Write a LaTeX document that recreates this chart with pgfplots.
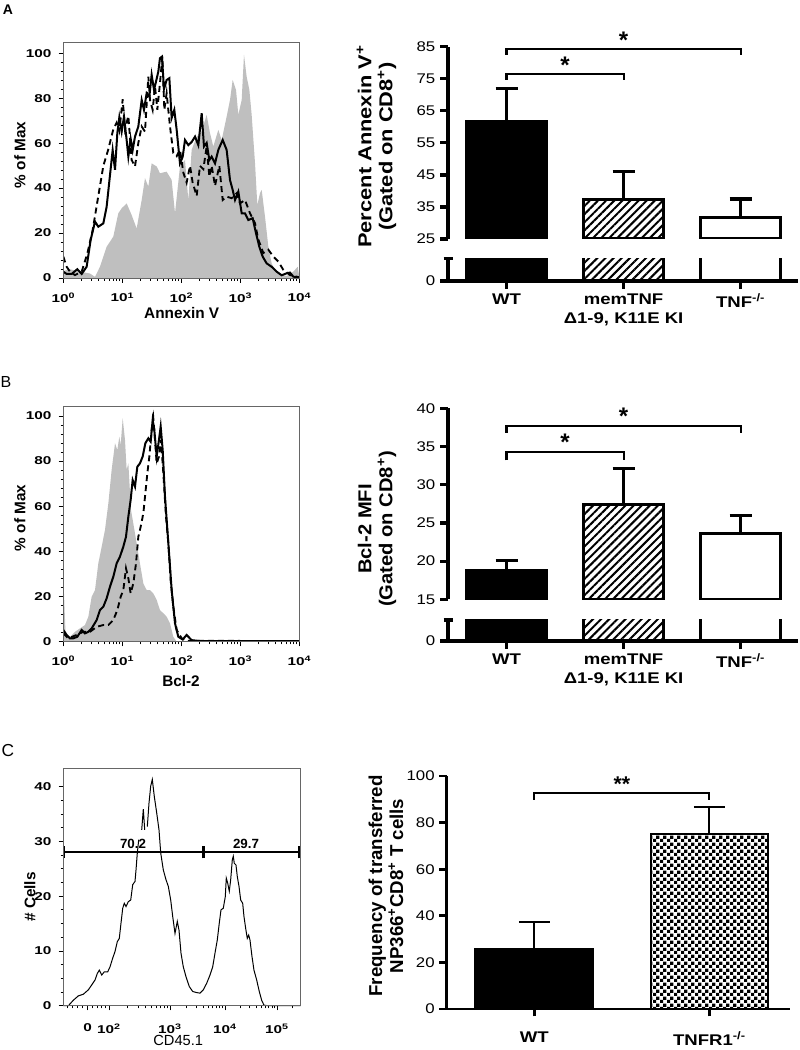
\documentclass[border=0pt]{standalone}
\usepackage{pgfplots}
\pgfplotsset{compat=1.18}
\usetikzlibrary{patterns,patterns.meta}
\usepackage{fontspec}
\setmainfont{Liberation Sans}
\newfontfamily\wf[FakeStretch=1.2]{Liberation Sans}
\newfontfamily\wfb[FakeStretch=1.35]{Liberation Sans}
\newfontfamily\wya[FakeStretch=1.17]{Liberation Sans}
\newfontfamily\wyb[FakeStretch=1.08]{Liberation Sans}

\tikzdeclarepattern{
  name=finecheck, type=uncolored,
  bounding box={(0pt,0pt) and (5pt,5pt)},
  tile size={(5pt,5pt)},
  code={\fill (0pt,0pt) rectangle (2.5pt,2.5pt); \fill (2.5pt,2.5pt) rectangle (5pt,5pt);}
}

\pgfplotsset{
  hist/.style={
    scale only axis, width=177pt, xmin=0, xmax=4, ymin=0, axis on top,
    axis line style={black!60, line width=0.6pt},
    tick style={black, line width=0.6pt},
    tick align=outside, major tick length=3.5pt, minor tick length=2pt,
    tick pos=left,
    tick label style={font=\wfb\bfseries\fontsize{8.5}{9.5}\selectfont},
    xticklabel style={yshift=-4pt},
    yticklabel style={xshift=-2pt},
  },
  logx/.style={
    xtick={0,1,2,3,4},
    xticklabels={10\textsuperscript{0},10\textsuperscript{1},10\textsuperscript{2},10\textsuperscript{3},10\textsuperscript{4}},
    minor xtick={0.301,0.477,0.602,0.699,0.778,0.845,0.903,0.954,
      1.301,1.477,1.602,1.699,1.778,1.845,1.903,1.954,
      2.301,2.477,2.602,2.699,2.778,2.845,2.903,2.954,
      3.301,3.477,3.602,3.699,3.778,3.845,3.903,3.954},
    ytick={0,20,40,60,80,100}, yticklabels={0,20,40,60,80,100}, minor y tick num=4,
  },
  bars/.style={
    scale only axis, width=262.5pt, xmin=-0.5, xmax=2.49, axis on top,
    axis line style={-, line width=2.4pt},
    tick style={black, line width=2.4pt},
    tick align=outside, major tick length=6pt,
    tick label style={font=\wf\fontsize{10.5}{12}\selectfont},
  },
  wtbar/.style={ybar, bar width=60pt, bar shift=0pt, fill=black, draw=black, line width=2.4pt},
  hbar/.style={ybar, bar width=60pt, bar shift=0pt, draw=black, line width=2.4pt,
    pattern={Lines[angle=45,distance=4.3pt,line width=1.5pt]}},
  obar/.style={ybar, bar width=60pt, bar shift=0pt, fill=white, draw=black, line width=2.4pt},
  eb/.style={error bars/.cd, y dir=plus, y explicit,
    error bar style={line width=2.4pt, black},
    error mark options={rotate=90, line width=2.4pt, mark size=8.25pt, black}},
  ebc/.style={error bars/.cd, y dir=plus, y explicit,
    error bar style={line width=1.5pt, black},
    error mark options={rotate=90, xshift=-11.6pt, line width=1.5pt, mark size=11.6pt, black}},
}

\begin{document}
\begin{tikzpicture}
\path[use as bounding box] (0,0) rectangle (600pt,787.5pt);

%================ Histogram A ================
\begin{axis}[hist, logx, at={(47.5pt,579pt)}, anchor=south west, height=176.5pt, ymax=104.7]
\addplot[fill=gray!50, draw=none] coordinates {
(0,3) (0.1,4) (0.25,3) (0.45,2) (0.537,0.5) (0.621,5) (0.734,13.9) (0.847,18.4) (0.932,28.8) (0.989,31.0) (1.073,33.2) (1.158,28.0) (1.243,22.0) (1.328,34.7) (1.384,44.4) (1.441,40.7) (1.497,51.0) (1.582,49.6) (1.638,46.6) (1.751,47.3) (1.836,43.6) (1.893,28.8) (1.977,49.6) (2.062,52.5) (2.119,34.7) (2.175,57.0) (2.260,62.9) (2.345,65.1) (2.429,72.6) (2.486,64.4) (2.542,58.5) (2.627,65.9) (2.684,61.4) (2.768,71.8) (2.825,79.2) (2.870,88.1) (2.927,83.7) (2.966,72.6) (3.023,79.2) (3.062,99.3) (3.107,89.6) (3.153,83.7) (3.192,72.6) (3.249,51.0) (3.288,32.5) (3.333,37.7) (3.362,39.2) (3.418,27.3) (3.475,13.9) (3.531,6.5) (3.616,2.1) (3.785,0.9) (3.898,2.8) (3.972,5.0) (4.0,0.5)
} \closedcycle;
\addplot[black, line width=1.4pt, dash pattern=on 4.5pt off 3pt] coordinates {
(0,9.5)(0.056,5.0)(0.113,2.8)(0.198,1.3)(0.311,2.8)(0.407,10.9)(0.497,21.3)(0.593,36.5)(0.678,49.9)(0.763,57.3)(0.847,66.2)(0.904,69.1)(0.949,65.4)(1.006,79.5)(1.045,66.2)(1.102,72.1)(1.158,52.5)(1.215,49.6)(1.271,60.1)(1.328,67.4)(1.384,65.1)(1.441,89.6)(1.469,79.2)(1.514,74.8)(1.554,85.2)(1.593,74.8)(1.638,86.6)(1.678,98.5)(1.712,74.8)(1.751,82.2)(1.808,67.4)(1.864,55.6)(1.921,54.2)(1.977,57.1)(2.034,46.9)(2.090,42.4)(2.147,49.9)(2.192,42.4)(2.260,36.5)(2.316,49.9)(2.373,48.4)(2.429,58.5)(2.475,45.1)(2.514,49.9)(2.571,41.0)(2.644,49.9)(2.701,34.7)(2.768,36.2)(2.853,35.5)(2.938,37.7)(2.994,33.2)(3.079,34.7)(3.164,28.8)(3.249,24.3)(3.305,17.1)(3.390,11.1)(3.475,12.6)(3.559,9.5)(3.644,7.3)(3.729,3.6)(3.842,1.3)(4.0,0.3)
};
\addplot[black, line width=1.5pt] coordinates {
(0,2.8)(0.056,1.8)(0.141,1.8)(0.237,3.9)(0.311,1.8)(0.395,5.0)(0.463,16.9)(0.537,25.1)(0.593,22.8)(0.678,24.3)(0.734,31.7)(0.791,45.8)(0.836,56.9)(0.876,48.1)(0.915,64.4)(0.949,71.5)(0.989,65.1)(1.028,71.8)(1.073,61.4)(1.102,54.0)(1.141,62.0)(1.175,56.9)(1.215,62.9)(1.271,67.4)(1.328,79.2)(1.367,74.8)(1.412,82.2)(1.458,80.7)(1.497,90.4)(1.537,83.7)(1.571,87.4)(1.610,91.8)(1.638,97.8)(1.672,98.5)(1.706,84.0)(1.751,88.1)(1.797,88.9)(1.836,71.2)(1.881,74.8)(1.921,65.9)(1.977,51.0)(2.023,53.9)(2.062,61.4)(2.119,59.1)(2.175,60.5)(2.232,62.9)(2.288,59.1)(2.345,73.3)(2.384,58.5)(2.429,60.1)(2.475,52.5)(2.514,54.0)(2.571,51.0)(2.627,57.0)(2.701,61.4)(2.768,57.0)(2.825,43.6)(2.870,39.2)(2.910,34.7)(2.966,38.4)(3.023,28.8)(3.079,28.8)(3.136,25.8)(3.209,26.6)(3.266,19.9)(3.322,13.9)(3.379,9.5)(3.446,6.5)(3.531,5.0)(3.616,2.8)(3.701,1.2)(3.785,2.1)(3.842,2.4)(3.898,0.6)(4.0,0.1)
};
\end{axis}

%================ Histogram B ================
\begin{axis}[hist, logx, at={(47.5pt,306.2pt)}, anchor=south west, height=176.8pt, ymax=104.4]
\addplot[fill=gray!50, draw=none] coordinates {
(0,0)(0.011,21.4)(0.040,2.2)(0.113,2.2)(0.198,4.4)(0.282,5.9)(0.367,7.4)(0.424,11.1)(0.480,19.9)(0.537,22.9)(0.593,34.7)(0.650,42.1)(0.706,49.5)(0.763,61.3)(0.819,76.1)(0.876,87.9)(0.915,84.9)(0.949,90.8)(0.972,87.1)(1.006,99.0)(1.045,89.4)(1.073,76.1)(1.102,79.0)(1.147,58.3)(1.186,52.4)(1.243,43.6)(1.299,34.7)(1.356,25.8)(1.412,22.9)(1.469,22.9)(1.525,21.4)(1.582,18.5)(1.638,14.0)(1.695,12.6)(1.751,11.1)(1.808,8.1)(1.864,2.2)(1.921,0)(4,0)
} \closedcycle;
\addplot[black, line width=1.4pt, dash pattern=on 4.5pt off 3pt] coordinates {
(0,3.7)(0.085,1.5)(0.226,3.0)(0.339,4.4)(0.452,4.4)(0.565,6.6)(0.678,7.4)(0.763,7.4)(0.847,9.6)(0.915,14.0)(0.972,19.9)(1.017,22.9)(1.062,32.5)(1.102,28.1)(1.141,21.4)(1.186,25.8)(1.232,34.7)(1.271,46.5)(1.311,50.9)(1.356,56.9)(1.390,65.7)(1.424,74.6)(1.458,82.0)(1.497,93.8)(1.525,99.0)(1.554,89.4)(1.582,79.0)(1.621,82.0)(1.655,89.4)(1.695,74.6)(1.740,55.4)(1.780,43.6)(1.819,27.3)(1.864,15.5)(1.921,5.2)(2.006,1.5)(2.090,0.4)(4.0,0.3)
};
\addplot[black, line width=1.5pt] coordinates {
(0,5.2)(0.056,3.0)(0.113,1.5)(0.169,1.5)(0.237,2.2)(0.311,5.2)(0.367,3.7)(0.424,4.4)(0.480,5.9)(0.565,9.6)(0.621,14.0)(0.678,15.5)(0.734,19.2)(0.791,24.4)(0.847,28.8)(0.904,34.7)(0.960,37.7)(1.017,42.1)(1.062,46.5)(1.102,55.4)(1.141,62.8)(1.175,71.6)(1.215,68.7)(1.254,77.5)(1.299,79.0)(1.345,82.0)(1.390,87.9)(1.441,90.1)(1.480,88.6)(1.514,98.2)(1.542,93.8)(1.582,82.0)(1.621,89.4)(1.650,95.3)(1.684,84.9)(1.723,64.3)(1.780,43.6)(1.836,22.9)(1.893,8.1)(1.949,2.2)(2.023,1.0)(2.090,3.0)(2.175,0.7)(2.316,0.3)(4.0,0.3)
};
\end{axis}

%================ Histogram C ================
\begin{axis}[hist, at={(47.5pt,33.2pt)}, anchor=south west, width=178pt, height=178.3pt,
  xmin=63.3, xmax=300.7, ymin=0, ymax=43.4,
  xtick={87.5,109,170,225,277},
  xticklabels={0,10\textsuperscript{2},10\textsuperscript{3},10\textsuperscript{4},10\textsuperscript{5}},
  xticklabel style={yshift=-2.5pt},
  minor xtick={67,72,77,82,92,97,101,105,127.4,138.1,145.7,151.6,156.5,160.6,164.1,167.2,186.6,196.2,203.1,208.4,212.8,216.5,219.7,222.5,240.7,249.8,256.3,261.3,265.5,268.9,272.0,274.6,292.7},
  ytick={0,10,20,30,40}, yticklabels={0,10,20,30,40}, minor y tick num=3, clip=false]
\addplot[black, line width=0.75pt] coordinates {
(63.3,0)(68.3,0)(73.3,1.0)(78.3,1.8)(83.3,2.1)(88.3,2.9)(91.7,3.8)(95.0,4.7)(97.3,5.9)(99.3,6.5)(101.7,5.6)(104.3,6.2)(107.7,6.2)(110.0,7.1)(112.7,8.7)(115.0,9.9)(117.3,11.7)(119.3,12.3)(121.0,15.1)(122.7,17.8)(124.3,18.7)(126.0,18.1)(128.3,19.0)(130.7,19.3)(132.7,22.1)(135.0,22.7)(136.0,24.8)(137.3,27.9)(138.7,30.3)
};
\addplot[black, line width=0.75pt] coordinates {(141.7,32.1)(143.3,35.9)(144.7,32.1)};
\addplot[black, line width=0.75pt] coordinates {
(147.3,32.7)(149,37.0)(150.7,40.1)(152.3,41.3)(154.3,38.2)(156.7,35.2)(159,32.1)(160.7,27.9)(163.3,24.8)(166,23.0)(168.3,21.8)(170.7,19.3)(172.7,16.3)(175,13.2)(177.3,15.4)(179,13.8)(181,9.6)(183.3,7.1)(186,5.3)(189.3,3.5)(192.7,2.6)(196.7,2.4)(200,2.3)(203.3,2.9)(206.7,4.1)(210,5.6)(212.7,7.1)(215,9.6)(217.3,12.0)(219.3,15.1)(221,17.5)(223.3,17.8)(225.3,19.9)(226.3,23.3)(227.7,22.4)(229.3,20.9)(230.7,23.0)(232.3,26.6)(233.3,27.3)(234.3,26.0)(236,25.7)(237.3,23.6)(239,21.8)(240.7,19.3)(242.7,18.7)(244,16.3)(245.7,14.1)(247.3,12.3)(248.7,12.9)(250,12.0)(252,9.0)(254,6.5)(256.7,4.7)(259.3,2.6)(261.7,1.0)(264,0.1)(268.3,0)(300.7,0)
};
\draw[line width=1.3pt] (axis cs:64,28) -- (axis cs:299,28);
\draw[line width=1.3pt] (axis cs:64,26.9) -- (axis cs:64,29.1);
\draw[line width=1.3pt] (axis cs:299,26.9) -- (axis cs:299,29.1);
\draw[line width=2.2pt] (axis cs:203.3,26.9) -- (axis cs:203.3,29.1);
\node[font=\bfseries\fontsize{10}{12}\selectfont] at (axis cs:133,29.6) {70.2};
\node[font=\bfseries\fontsize{10}{12}\selectfont] at (axis cs:246,29.6) {29.7};
\end{axis}

%================ Bar A (upper) ================
\begin{axis}[bars, at={(336pt,608.25pt)}, anchor=south west, height=144.2pt,
  ymin=25, ymax=85, hide x axis, axis y line*=left,
  ytick={25,35,45,55,65,75,85}, yticklabels={25,35,45,55,65,75,85}, clip mode=individual]
\addplot[wtbar, eb] coordinates {(0,61.7) +- (0,10.2)};
\addplot[hbar, eb] coordinates {(1,37.2) +- (0,8.8)};
\addplot[obar, eb] coordinates {(2,31.8) +- (0,5.7)};
\draw[line width=1.6pt] (axis cs:0,74.7) |- (axis cs:1,76.6) -- (axis cs:1,74.7);
\draw[line width=1.6pt] (axis cs:0,82.5) |- (axis cs:2,84.3) -- (axis cs:2,82.5);
\node[anchor=base, font=\bfseries\fontsize{18}{20}\selectfont] at (axis cs:0.5,76.8) {*};
\node[anchor=base, font=\bfseries\fontsize{18}{20}\selectfont] at (axis cs:1,84.6) {*};
\end{axis}

%================ Bar A (lower) ================
\begin{axis}[bars, at={(336pt,576.75pt)}, anchor=south west, height=17pt,
  ymin=0, ymax=10, axis x line*=bottom, axis y line*=left,
  xtick={0,1,2}, xticklabels={WT,{memTNF\\Δ1-9, K11E KI},TNF\textsuperscript{-/-}},
  xticklabel style={font=\wf\bfseries\fontsize{11.6}{14.2}\selectfont, align=center},
  ytick={0}, yticklabels={0},
  extra y ticks={10}, extra y tick labels={}, extra y tick style={major tick length=6.75pt, tick align=center}]
\addplot[wtbar] coordinates {(0,61.7)};
\addplot[hbar] coordinates {(1,37.2)};
\addplot[obar] coordinates {(2,31.8)};
\end{axis}

%================ Bar B (upper) ================
\begin{axis}[bars, at={(336pt,338pt)}, anchor=south west, height=143.25pt,
  ymin=15, ymax=40, hide x axis, axis y line*=left,
  ytick={15,20,25,30,35,40}, yticklabels={15,20,25,30,35,40}, clip mode=individual]
\addplot[wtbar, eb] coordinates {(0,18.7) +- (0,1.4)};
\addplot[hbar, eb] coordinates {(1,27.4) +- (0,4.7)};
\addplot[obar, eb] coordinates {(2,23.6) +- (0,2.4)};
\draw[line width=1.6pt] (axis cs:0,33.2) |- (axis cs:1,34.3) -- (axis cs:1,33.2);
\draw[line width=1.6pt] (axis cs:0,36.8) |- (axis cs:2,37.7) -- (axis cs:2,36.8);
\node[anchor=base, font=\bfseries\fontsize{18}{20}\selectfont] at (axis cs:0.5,34.5) {*};
\node[anchor=base, font=\bfseries\fontsize{18}{20}\selectfont] at (axis cs:1,37.9) {*};
\end{axis}

%================ Bar B (lower) ================
\begin{axis}[bars, at={(336pt,306.75pt)}, anchor=south west, height=15.75pt,
  ymin=0, ymax=10, axis x line*=bottom, axis y line*=left,
  xtick={0,1,2}, xticklabels={WT,{memTNF\\Δ1-9, K11E KI},TNF\textsuperscript{-/-}},
  xticklabel style={font=\wf\bfseries\fontsize{11.6}{14.2}\selectfont, align=center},
  ytick={0}, yticklabels={0},
  extra y ticks={10}, extra y tick labels={}, extra y tick style={major tick length=6.75pt, tick align=center}]
\addplot[wtbar] coordinates {(0,18.7)};
\addplot[hbar] coordinates {(1,27.4)};
\addplot[obar] coordinates {(2,23.6)};
\end{axis}

%================ Bar C ================
\begin{axis}[scale only axis, at={(335pt,30.75pt)}, anchor=south west, width=257.5pt, height=174.75pt,
  xmin=-0.5, xmax=1.46, ymin=0, ymax=100, axis on top,
  axis x line*=bottom, axis y line*=left, axis line style={-, line width=2.2pt},
  tick style={black, line width=2.2pt}, tick align=outside, major tick length=5.5pt,
  ytick={0,20,40,60,80,100}, yticklabels={0,20,40,60,80,100},
  xtick={0,1}, xticklabels={WT,TNFR1\textsuperscript{-/-}},
  tick label style={font=\wf\fontsize{10.5}{12}\selectfont},
  xticklabel style={font=\wf\bfseries\fontsize{11.6}{14}\selectfont, yshift=-8pt}, clip=false]
\addplot[ybar, bar width=88.3pt, bar shift=0pt, fill=black, draw=black, line width=1.5pt, ebc]
  coordinates {(0,25.6) +- (0,11.6)};
\addplot[ybar, bar width=88.3pt, bar shift=0pt, pattern=finecheck, draw=black, line width=1.5pt, ebc]
  coordinates {(1,74.9) +- (0,11.6)};
\draw[line width=1.5pt] (axis cs:0,89.7) |- (axis cs:1,92.8) -- (axis cs:1,89.7);
\node[anchor=base, font=\bfseries\fontsize{16}{18}\selectfont] at (axis cs:0.5,93.2) {**};
\end{axis}

%================ Free labels ================
\node[font=\bfseries\fontsize{10.5}{12}\selectfont] at (6pt,780pt) {A};
\node[font=\fontsize{12}{14}\selectfont] at (4.5pt,501pt) {B};
\node[font=\fontsize{13}{15}\selectfont] at (6pt,224.25pt) {C};

\node[rotate=90, font=\bfseries\fontsize{11.5}{13}\selectfont] at (15pt,671.25pt) {\% of Max};
\node[font=\bfseries\fontsize{11.5}{13}\selectfont] at (136.3pt,552.75pt) {Annexin V};
\node[rotate=90, font=\bfseries\fontsize{11.5}{13}\selectfont] at (15pt,399pt) {\% of Max};
\node[font=\bfseries\fontsize{11.5}{13}\selectfont] at (135.75pt,276.75pt) {Bcl-2};
\node[rotate=90, font=\bfseries\fontsize{11.5}{13}\selectfont] at (22.5pt,114.75pt) {\# Cells};
\node[font=\fontsize{11}{13}\selectfont] at (133.7pt,7.5pt) {CD45.1};

\node[rotate=90, align=center, font=\wya\bfseries\fontsize{14}{15.75}\selectfont] at (282.4pt,677.6pt) {Percent Annexin V\textsuperscript{+}\\(Gated on CD8\textsuperscript{+})};
\node[rotate=90, align=center, font=\wyb\bfseries\fontsize{14}{15.75}\selectfont] at (282.75pt,390.75pt) {Bcl-2 MFI\\(Gated on CD8\textsuperscript{+})};
\node[rotate=90, align=center, font=\bfseries\fontsize{14}{15.75}\selectfont] at (289.5pt,123pt) {Frequency of transferred\\NP366\textsuperscript{+}CD8\textsuperscript{+} T cells};
\end{tikzpicture}
\end{document}
